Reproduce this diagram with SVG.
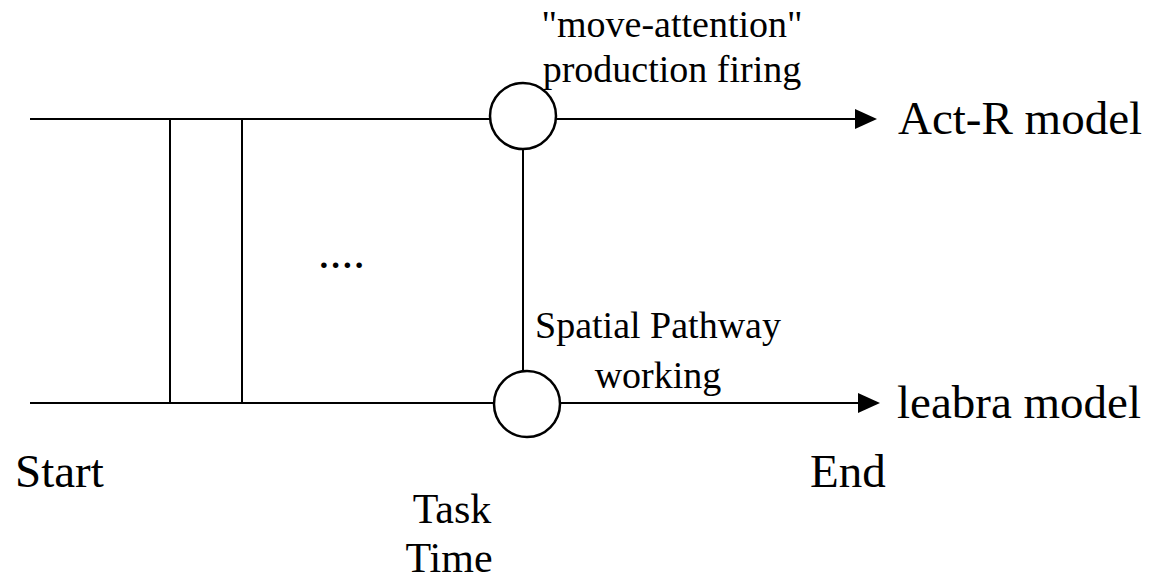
<svg xmlns="http://www.w3.org/2000/svg" width="1153" height="583" viewBox="0 0 1153 583">
<style>
.ln{stroke:#000;stroke-width:2;fill:none}
.node{stroke:#000;stroke-width:2.5;fill:#fff}
.big{font-family:"Liberation Serif","Times New Roman",serif;font-size:47px;fill:#000}
.mid{font-family:"Liberation Serif","Times New Roman",serif;font-size:42px;fill:#000}
.sm{font-family:"Liberation Serif","Times New Roman",serif;font-size:38px;fill:#000}
</style>
<rect width="1153" height="583" fill="#fff"/>
<g id="connectors">
<line class="ln" x1="30" y1="119" x2="490" y2="119"/>
<line class="ln" x1="30" y1="403" x2="494" y2="403"/>
<line class="ln" x1="170" y1="119" x2="170" y2="403"/>
<line class="ln" x1="242" y1="119" x2="242" y2="403"/>
<line class="ln" x1="523" y1="149" x2="523" y2="371"/>
<line class="ln" x1="556" y1="119" x2="855" y2="119"/>
<polygon points="855,109 877,119 855,129" fill="#000"/>
<line class="ln" x1="560" y1="403" x2="858" y2="403"/>
<polygon points="858,393 880,403 858,413" fill="#000"/>
</g>
<g id="node-top">
<circle class="node" cx="523" cy="116" r="33"/>
<text class="sm" x="672" y="37" text-anchor="middle">"move-attention"</text>
<text class="sm" x="672" y="82" text-anchor="middle">production firing</text>
</g>
<g id="node-bottom">
<circle class="node" cx="527" cy="404" r="33"/>
<text class="sm" x="658" y="338" text-anchor="middle">Spatial Pathway</text>
<text class="sm" x="658" y="388" text-anchor="middle">working</text>
</g>
<g id="labels">
<text class="big" x="898" y="134">Act-R model</text>
<text class="big" x="897" y="418">leabra model</text>
<text class="big" x="15" y="487">Start</text>
<text class="big" x="810" y="487">End</text>
<text class="mid" x="452" y="523" text-anchor="middle">Task</text>
<text class="mid" x="449" y="572" text-anchor="middle">Time</text>
<text class="big" x="318" y="268">....</text>
</g>
</svg>
